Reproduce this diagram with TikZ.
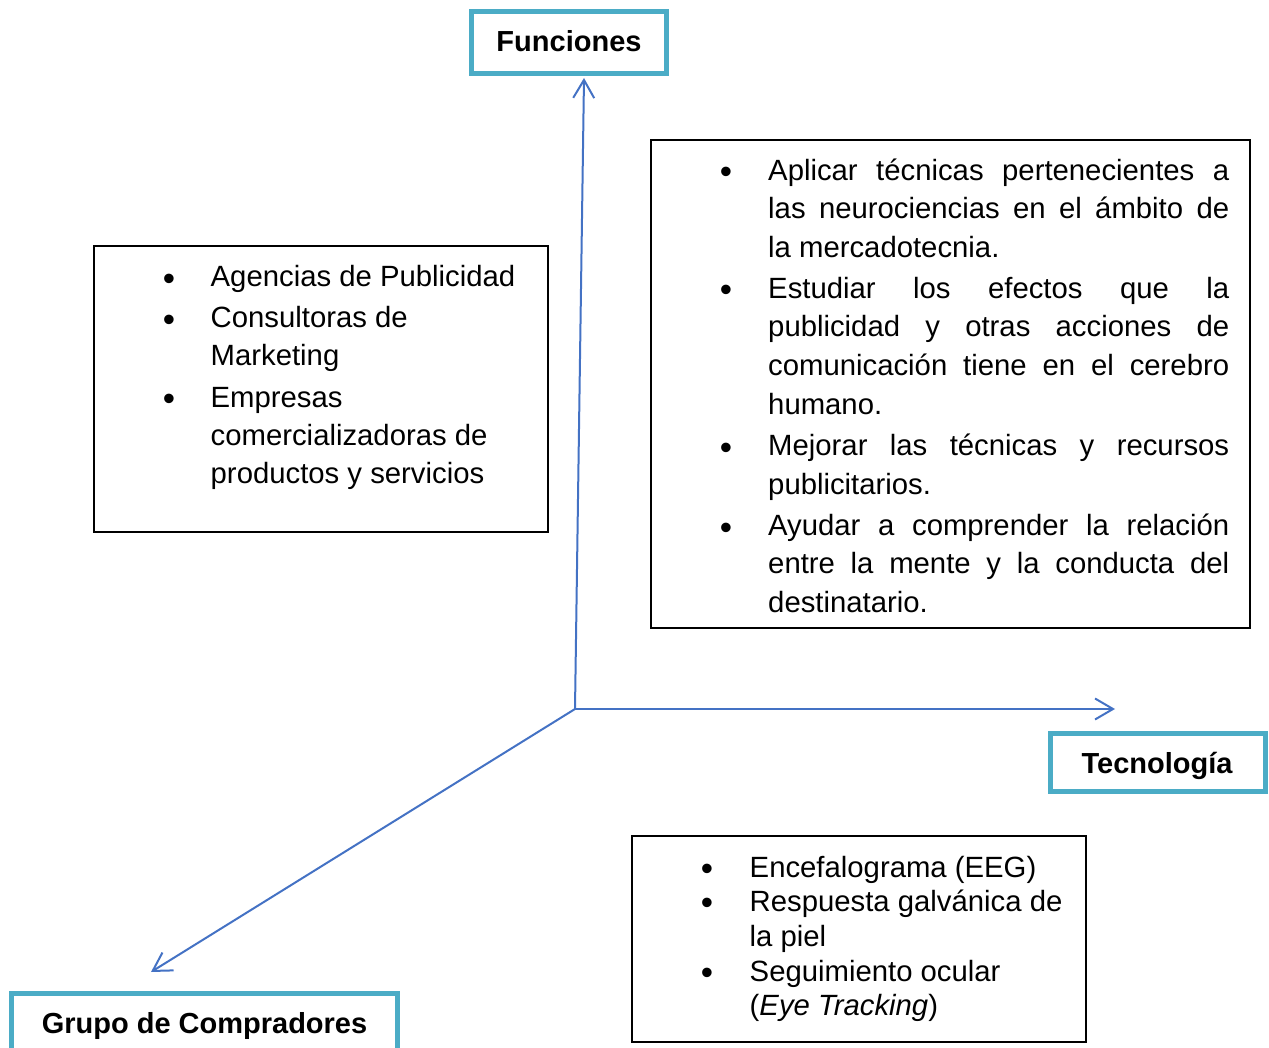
\documentclass[tikz,border=0pt]{standalone}
\usepackage{fontspec}
\setmainfont{Liberation Sans}
\usetikzlibrary{arrows.meta}
\definecolor{axisblue}{HTML}{4472C4}
\definecolor{labelteal}{HTML}{4BACC6}
\newcommand{\jline}[1]{\makebox[461pt][s]{#1}}
\begin{document}
\begin{tikzpicture}[x=1pt,y=-1pt,
  txt/.style={font=\fontsize{29.3}{35}\selectfont, inner sep=0pt, anchor=base west},
  bul/.style={font=\fontsize{35}{36}\selectfont, inner sep=0pt, anchor=base, yshift=-3.5pt},
  infobox/.style={draw=black, line width=1.5pt, inner sep=0pt},
  lblbox/.style={draw=labelteal, line width=5pt, inner sep=0pt, fill=white},
  lbltxt/.style={font=\fontsize{29}{35}\selectfont\bfseries, inner sep=0pt, anchor=base},
  axis/.style={draw=axisblue, line width=2pt, -{Straight Barb[length=18pt,width=21pt]}}
]
\clip (0,0) rectangle (1269,1048);
\useasboundingbox (0,0) rectangle (1269,1048);

% axes
\coordinate (o) at (575,709);
\coordinate (ftip) at (584,78);
\coordinate (ttip) at (1115,709);
\coordinate (gtip) at (151,972);
\draw[axis] (o) -- (ftip);
\draw[axis] (o) -- (ttip);
\draw[axis] (o) -- (gtip);

% label boxes
\node[lblbox, minimum width=195pt, minimum height=62pt] (fun) at (569,42.5) {};
\node[lbltxt] (funt) at (569,51.7) {Funciones};
\node[lblbox, minimum width=215pt, minimum height=58pt] (tec) at (1158,762.5) {};
\node[lbltxt] (tect) at (1157,773.5) {Tecnología};
\node[lblbox, minimum width=386pt, minimum height=60pt] (gru) at (204.5,1023) {};
\node[lbltxt] (grut) at (204.5,1033) {Grupo de Compradores};

% info boxes
\node[infobox, minimum width=454pt, minimum height=286pt] (lbox) at (321,389) {};
\node[infobox, minimum width=599pt, minimum height=488pt] (rbox) at (950.5,384) {};
\node[infobox, minimum width=454pt, minimum height=206pt] (bbox) at (859,939) {};

% left box text
\node[bul] (la1b) at (169,287) {•};
\node[txt] (la1) at (210.5,287) {Agencias de Publicidad};
\node[bul] (la2b) at (169,328) {•};
\node[txt] (la2) at (210.5,328) {Consultoras de};
\node[txt] (la3) at (210.5,366) {Marketing};
\node[bul] (la4b) at (169,407) {•};
\node[txt] (la4) at (210.5,407) {Empresas};
\node[txt] (la5) at (210.5,445) {comercializadoras de};
\node[txt] (la6) at (210.5,483) {productos y servicios};

% right box text
\node[bul] (rb1b) at (726,180.5) {•};
\node[txt] (rb1) at (768,180.5) {\jline{Aplicar técnicas pertenecientes a}};
\node[txt] (rb2) at (768,218.5) {\jline{las neurociencias en el ámbito de}};
\node[txt] (rb3) at (768,257.5) {la mercadotecnia.};
\node[bul] (rb4b) at (726,298.5) {•};
\node[txt] (rb4) at (768,298.5) {\jline{Estudiar los efectos que la}};
\node[txt] (rb5) at (768,336.5) {\jline{publicidad y otras acciones de}};
\node[txt] (rb6) at (768,375.5) {\jline{comunicación tiene en el cerebro}};
\node[txt] (rb7) at (768,414.5) {humano.};
\node[bul] (rb8b) at (726,455.5) {•};
\node[txt] (rb8) at (768,455.5) {\jline{Mejorar las técnicas y recursos}};
\node[txt] (rb9) at (768,494.5) {publicitarios.};
\node[bul] (rb10b) at (726,535.5) {•};
\node[txt] (rb10) at (768,535.5) {\jline{Ayudar a comprender la relación}};
\node[txt] (rb11) at (768,573.5) {\jline{entre la mente y la conducta del}};
\node[txt] (rb12) at (768,612.5) {destinatario.};

% bottom box text
\node[bul] (bc1b) at (707,877) {•};
\node[txt] (bc1) at (749.5,877) {Encefalograma (EEG)};
\node[bul] (bc2b) at (707,911) {•};
\node[txt] (bc2) at (749.5,911) {Respuesta galvánica de};
\node[txt] (bc3) at (749.5,946) {la piel};
\node[bul] (bc4b) at (707,981) {•};
\node[txt] (bc4) at (749.5,981) {Seguimiento ocular};
\node[txt] (bc5) at (749.5,1015) {(\textit{Eye Tracking})};
\end{tikzpicture}
\end{document}
